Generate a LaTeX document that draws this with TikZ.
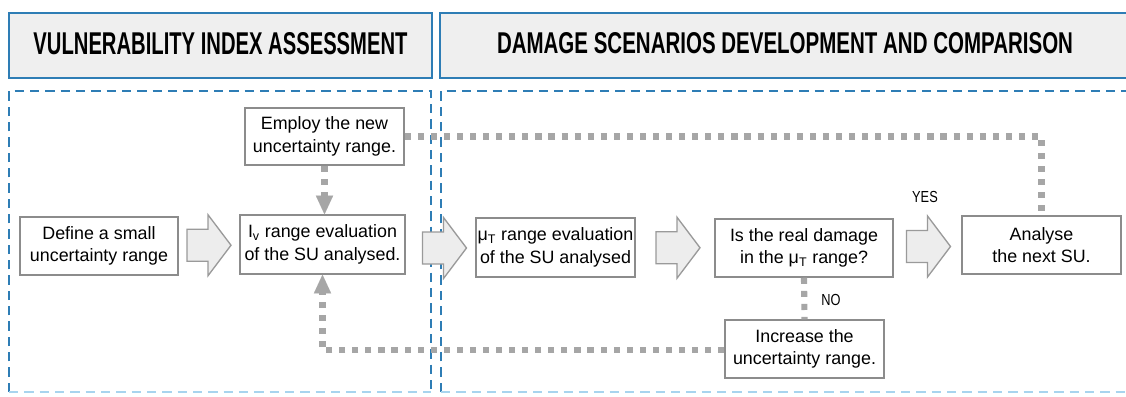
\documentclass[tikz,border=0pt]{standalone}
\usepackage{fontspec}
\setmainfont{Liberation Sans}
\newfontfamily\condfont[FakeStretch=0.8]{Liberation Sans}
\usetikzlibrary{arrows.meta,calc}
\definecolor{hblue}{HTML}{2E7DB5}
\definecolor{lblue}{HTML}{A8D4EE}
\definecolor{hfill}{HTML}{EFEFEF}
\definecolor{boxline}{HTML}{8C8C8C}
\definecolor{dotgray}{HTML}{A6A6A6}
\definecolor{arrfill}{HTML}{EDEDED}
\definecolor{arrline}{HTML}{9A9A9A}
\newcommand\pxu{0.75pt}
\newcommand\blockarr[1]{\draw[barrow, shift={(#1)}] (-22,-16) -- (-1,-16) -- (-1,-30.5) -- (22,0) -- (-1,30.5) -- (-1,16) -- (-22,16) -- cycle;}
\begin{document}
\begin{tikzpicture}[x=0.75pt,y=-0.75pt,
  header/.style={draw=hblue, line width=1.5pt, fill=hfill, inner sep=0pt},
  region/.style={draw=hblue, line width=1.5pt, dash pattern=on 7pt off 4.5pt},
  stepbox/.style={draw=boxline, line width=1.1pt, fill=white, align=center, inner sep=0pt, font=\fontsize{13.4}{16.7}\selectfont},
  dotline/.style={draw=dotgray, line width=4.6pt, dash pattern=on 4.6pt off 5.2pt},
  tip/.style={-{Triangle[width=13pt,length=14pt,line width=0.01pt]}},
  barrow/.style={draw=arrline, fill=arrfill, line width=1pt, line join=miter},
  lbl/.style={inner sep=0pt, font=\condfont\fontsize{12}{14}\selectfont}
]
\useasboundingbox (0,0) rectangle (1126,396);

% headers
\node[header, minimum width=423*\pxu, minimum height=65*\pxu] (h1) at (220.5,45.5) {};
\node[inner sep=0pt] (h1t) at (220.5,43.3) {\resizebox{280.5pt}{16.5pt}{\bfseries VULNERABILITY INDEX ASSESSMENT}};
\node[header, minimum width=690*\pxu, minimum height=65*\pxu] (h2) at (785,45.5) {};
\node[inner sep=0pt] (h2t) at (785,43.5) {\resizebox{432pt}{15.75pt}{\bfseries DAMAGE SCENARIOS DEVELOPMENT AND COMPARISON}};

% dashed regions
\draw[region] (9,392) -- (9,91) -- (431,91) -- (431,392);
\draw[region, draw=lblue] (9,392) -- (431,392);
\draw[region] (441,392) -- (441,91) -- (1130,91);
\draw[region, draw=lblue] (441,392) -- (1130,392);

% boxes
\node[stepbox, minimum width=158*\pxu, minimum height=58*\pxu] (define) at (99,246) {Define a small\\uncertainty range};
\node[stepbox, minimum width=165*\pxu, minimum height=59*\pxu] (iv) at (322.5,244.5) {I\textsubscript{v} range evaluation\\of the SU analysed.};
\node[stepbox, minimum width=159*\pxu, minimum height=57*\pxu] (employ) at (324.5,136.5) {Employ the new\\uncertainty range.};
\node[stepbox, minimum width=159*\pxu, minimum height=59*\pxu] (mu) at (555.5,247.5) {μ\textsubscript{T} range evaluation\\of the SU analysed};
\node[stepbox, minimum width=178*\pxu, minimum height=58*\pxu] (is) at (804,248) {Is the real damage\\in the μ\textsubscript{T} range?};
\node[stepbox, minimum width=159*\pxu, minimum height=58*\pxu] (analyse) at (1041.5,245) {Analyse\\the next SU.};
\node[stepbox, minimum width=159*\pxu, minimum height=58*\pxu] (increase) at (804.5,349) {Increase the\\uncertainty range.};

% block arrows
\coordinate (a1) at ($(define.east)!0.5!(iv.west)$);
\coordinate (a2) at ($(iv.east)!0.5!(mu.west)+(4,2)$);
\coordinate (a3) at ($(mu.east)!0.5!(is.west)+(3,0)$);
\coordinate (a4) at ($(is.east)!0.5!(analyse.west)+(1,0)$);
\blockarr{a1}
\blockarr{a2}
\blockarr{a3}
\blockarr{a4}

% dotted connectors
\draw[dotline, tip] (employ.south) -- (employ.south |- iv.north);
\draw[dotline, tip] ([yshift=-1]increase.west) -| (iv.south);
\draw[dotline] (employ.east) -| (analyse.north);
\draw[dotline] (is.south) -- (increase.north);

% labels
\node[lbl] (yes) at (925,197) {YES};
\node[lbl] (no) at (831,300) {NO};
\end{tikzpicture}
\end{document}
